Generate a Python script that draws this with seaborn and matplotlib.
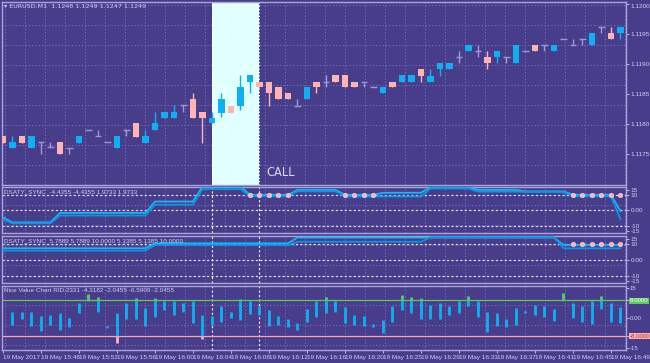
import numpy as np
import pandas as pd
import matplotlib
matplotlib.use('Agg')
import matplotlib.pyplot as plt
import seaborn as sns

sns.set_theme(style='dark')
plt.rcParams['font.family'] = ['Liberation Sans Narrow', 'Liberation Sans', 'DejaVu Sans']

BG = '#483D8B'
GRID = '#7a71c2'
FG = '#d2cef0'
EDGE = '#a9a4da'
BULL = '#0db0f2'
BEAR = '#ffb4b4'
DOJI = '#9a98d6'
LINE_A = '#1cb4f4'
LINE_B = '#0a96e0'
DOT = '#ffb0b8'
GREEN = '#5fcb5f'
PINK = '#f2a8b6'

# EURUSD M1 candles
opens = [1.11780, 1.11760, 1.11780, 1.11760, 1.11770, 1.11762, 1.11770, 1.11760, 1.11768, 1.11790,
         1.11780, 1.11770, 1.11760, 1.11790, 1.11802, 1.11768, 1.11790, 1.11810, 1.11810, 1.11832,
         1.11842, 1.11820, 1.11802, 1.11818, 1.11830, 1.11830, 1.11870, 1.11870, 1.11870, 1.11862,
         1.11852, 1.11830, 1.11842, 1.11870, 1.11870, 1.11882, 1.11882, 1.11870, 1.11870, 1.11862,
         1.11852, 1.11870, 1.11870, 1.11870, 1.11892, 1.11870, 1.11892, 1.11892, 1.11912, 1.11922,
         1.11922, 1.11912, 1.11912, 1.11912, 1.11902, 1.11922, 1.11932, 1.11932, 1.11922, 1.11942,
         1.11932, 1.11942, 1.11932, 1.11962, 1.11952, 1.11952]
highs = [1.11780, 1.11780, 1.11780, 1.11780, 1.11770, 1.11770, 1.11770, 1.11760, 1.11780, 1.11790,
         1.11790, 1.11770, 1.11780, 1.11790, 1.11802, 1.11790, 1.11820, 1.11820, 1.11832, 1.11832,
         1.11852, 1.11820, 1.11820, 1.11852, 1.11830, 1.11882, 1.11882, 1.11870, 1.11870, 1.11862,
         1.11852, 1.11842, 1.11862, 1.11870, 1.11882, 1.11882, 1.11882, 1.11870, 1.11870, 1.11862,
         1.11862, 1.11870, 1.11882, 1.11882, 1.11892, 1.11892, 1.11902, 1.11902, 1.11922, 1.11932,
         1.11932, 1.11922, 1.11922, 1.11912, 1.11932, 1.11922, 1.11932, 1.11932, 1.11932, 1.11942,
         1.11942, 1.11942, 1.11952, 1.11962, 1.11962, 1.11962]
lows = [1.11768, 1.11760, 1.11768, 1.11760, 1.11750, 1.11762, 1.11750, 1.11750, 1.11768, 1.11790,
        1.11780, 1.11770, 1.11760, 1.11780, 1.11778, 1.11768, 1.11790, 1.11810, 1.11810, 1.11820,
        1.11810, 1.11768, 1.11802, 1.11812, 1.11818, 1.11823, 1.11852, 1.11862, 1.11830, 1.11842,
        1.11842, 1.11830, 1.11842, 1.11852, 1.11862, 1.11870, 1.11862, 1.11862, 1.11862, 1.11862,
        1.11852, 1.11862, 1.11870, 1.11870, 1.11870, 1.11870, 1.11880, 1.11892, 1.11902, 1.11922,
        1.11912, 1.11892, 1.11902, 1.11902, 1.11902, 1.11922, 1.11922, 1.11922, 1.11922, 1.11942,
        1.11932, 1.11932, 1.11932, 1.11952, 1.11942, 1.11942]
closes = [1.11768, 1.11770, 1.11768, 1.11780, 1.11770, 1.11762, 1.11750, 1.11760, 1.11780, 1.11790,
          1.11780, 1.11770, 1.11780, 1.11790, 1.11778, 1.11780, 1.11802, 1.11820, 1.11820, 1.11832,
          1.11810, 1.11810, 1.11810, 1.11842, 1.11818, 1.11862, 1.11882, 1.11862, 1.11852, 1.11842,
          1.11842, 1.11830, 1.11862, 1.11862, 1.11870, 1.11870, 1.11862, 1.11862, 1.11870, 1.11862,
          1.11862, 1.11862, 1.11882, 1.11882, 1.11880, 1.11880, 1.11902, 1.11902, 1.11912, 1.11932,
          1.11922, 1.11902, 1.11922, 1.11912, 1.11932, 1.11922, 1.11922, 1.11932, 1.11932, 1.11942,
          1.11932, 1.11942, 1.11952, 1.11962, 1.11942, 1.11962]

price_ticks = [1.1200, 1.1195, 1.1190, 1.1185, 1.1180, 1.1175]
time_labels = ['19 May 2017', '19 May 15:48', '19 May 15:52', '19 May 15:56', '19 May 16:00',
               '19 May 16:04', '19 May 16:08', '19 May 16:12', '19 May 16:16', '19 May 16:20',
               '19 May 16:25', '19 May 16:29', '19 May 16:33', '19 May 16:37', '19 May 16:41',
               '19 May 16:45', '19 May 16:49']

# DSATY_SYNC (first window)
sync1_a = [-4.5, -7.7, -7.7, -7.7, -7.7, -7.7, -1.6, -1.6, -1.6, -1.6,
           -1.6, -1.6, -1.6, -1.6, -1.6, -1.6, 5.7, 5.7, 5.7, 5.7,
           5.7, 15.2, 15.2, 15.2, 15.2, 15.2, 10.0, 10.0, 10.0, 10.0,
           10.0, 13.1, 13.1, 13.1, 13.1, 13.1, 10.0, 10.0, 10.0, 10.0,
           11.3, 11.3, 11.3, 11.3, 11.3, 14.9, 14.9, 14.9, 14.9, 14.9,
           13.1, 13.1, 13.1, 13.1, 13.1, 12.2, 12.2, 12.2, 12.2, 12.2,
           10.0, 10.0, 10.0, 10.0, 10.0, -0.6]
sync1_b = [-5.8, -8.3, -8.3, -8.3, -8.3, -8.3, -3.3, -3.3, -3.3, -3.3,
           -3.3, -3.3, -3.3, -3.3, -3.3, -3.3, 3.7, 3.7, 3.7, 3.7,
           3.7, 13.6, 13.6, 13.6, 13.6, 13.6, 9.0, 9.0, 9.0, 9.0,
           9.0, 12.2, 12.2, 12.2, 12.2, 12.2, 8.9, 8.9, 8.9, 8.9,
           8.9, 8.9, 8.9, 8.9, 8.9, 14.0, 14.0, 14.0, 14.0, 14.0,
           12.0, 12.0, 12.0, 12.0, 12.0, 11.8, 11.8, 11.8, 11.8, 11.6,
           9.0, 9.0, 9.0, 9.0, 9.0, -5.8]
sync1_dots = [26, 27, 28, 29, 30, 36, 37, 38, 39, 60, 61, 62, 63, 64, 65]

# DSATY_SYNC (second window)
sync2_a = [7.3] * 16 + [10.4] * 15 + [14.0] * 28 + [9.4] * 7
sync2_b = [5.8] * 16 + [9.3] * 15 + [11.4] * 14 + [14.2] * 14 + [7.3] * 7
sync2_dots = [60, 61, 62, 63, 64, 65]
dot_level = 10.0

# Nice Value Chart, bar range per candle
vc_hi = [np.nan, 2.9, 2.9, 2.9, 1.0, 1.4, 2.2, -0.1, 7.0, 11.0, 9.3, -3.6, 2.2, 6.7, 9.0, 4.5,
         9.0, 7.5, 7.5, 6.7, 7.5, 1.4, 1.1, 5.5, 2.5, 8.5, 7.5, 5.5, 3.4, 1.0, -0.5, -2.1, 4.0,
         7.5, 9.3, 7.5, 4.9, 1.4, 1.0, -2.7, -0.9, 5.5, 10.5, 9.5, 9.0, 6.0, 6.7, 5.5, 7.9, 10.0,
         7.5, 2.9, 2.2, -0.5, 4.5, 3.2, 6.0, 5.5, 4.0, 11.3, 6.7, 5.5, 7.9, 10.0, 6.7, 4.9]
vc_lo = [np.nan, -3.1, -0.5, -3.6, -5.9, -3.1, -5.4, -3.9, 2.2, 7.5, 2.9, -4.6, -11.5, -0.4, -0.4,
         -3.4, 0.6, 3.7, 1.4, 2.5, -2.4, -9.6, -3.1, -1.6, -0.1, -0.9, 1.9, 1.4, -3.6, -3.1, -3.9,
         -5.4, -1.6, 0.6, 2.4, 2.9, -2.1, -3.1, -3.6, -3.9, -6.9, -1.6, 3.4, 2.2, -0.5, -0.5, -0.5,
         1.4, 2.2, 5.5, 0.6, -6.2, -3.6, -3.9, -3.1, 2.2, 1.4, 0.6, -1.2, 7.5, -0.1, -1.6, -2.7,
         4.0, -1.6, -2.1]
vc_level = 8.0

call_start, call_end = 22, 27

# layout in pixels of the 650x363 screen
W_PX, H_PX = 650, 363
X_LEFT, X_RIGHT = 2, 626
CANDLE_PX, CANDLE0_PX = 9.5, 3
panels_px = [(2, 185), (187, 233), (236, 283), (286, 350)]
SMALL = 4.6

fig = plt.figure(figsize=(6.5, 3.63), dpi=100, facecolor=BG)
axes = []
for top, bot in panels_px:
    ax = fig.add_axes([X_LEFT / W_PX, 1 - bot / H_PX, (X_RIGHT - X_LEFT) / W_PX, (bot - top) / H_PX])
    ax.set_facecolor(BG)
    for s in ax.spines.values():
        s.set_color(EDGE)
        s.set_linewidth(1.0)
    ax.set_xlim((X_LEFT - CANDLE0_PX) / CANDLE_PX, (X_RIGHT - CANDLE0_PX) / CANDLE_PX)
    ax.grid(False)
    ax.yaxis.tick_right()
    ax.tick_params(axis='y', colors=FG, labelsize=SMALL, length=2, width=0.6, pad=1.5)
    ax.tick_params(axis='x', bottom=False, labelbottom=False)
    axes.append(ax)
ax_main, ax_s1, ax_s2, ax_vc = axes

ax_main.set_ylim(1.11698, 1.12003)
ax_s1.set_ylim(-14.5, 15)
ax_s2.set_ylim(-14.5, 15)
ax_vc.set_ylim(-14.5, 14.5)

dots = (0, (1.2, 2.2))
vgrid = (np.arange(5, X_RIGHT, 20) - CANDLE0_PX) / CANDLE_PX


def hgrid_values(ax, top, bot):
    y0, y1 = ax.get_ylim()
    ys = np.arange(5, bot, 20)
    ys = ys[ys > top + 2]
    return y0 + (bot - ys) / (bot - top) * (y1 - y0)


for ax, (top, bot) in zip(axes, panels_px):
    for x in vgrid:
        ax.axvline(x, color=GRID, lw=0.7, ls=dots, zorder=0.5)
    for y in hgrid_values(ax, top, bot):
        ax.axhline(y, color=GRID, lw=0.7, ls=dots, zorder=0.5)

# ---- main price window ----
idx = np.arange(len(opens))
o, h, l, c = (np.array(v) for v in (opens, highs, lows, closes))
bull = c > o + 1e-9
bear = c < o - 1e-9
doji = ~(bull | bear)
colors = np.where(bull, BULL, np.where(bear, BEAR, DOJI))

ax_main.axvspan(call_start, call_end, color='#e0ffff', lw=0, zorder=0.8)
box_grid = vgrid[(vgrid > call_start) & (vgrid < call_end)]
ax_main.vlines(box_grid, 1.11698, 1.12003, color='white', lw=0.7, ls=dots, zorder=0.9)
ax_main.hlines(hgrid_values(ax_main, *panels_px[0]), call_start, call_end, color='white', lw=0.7, ls=dots, zorder=0.9)
for x in (call_start, call_end):
    ax_main.axvline(x, color='white', lw=0.7, ls=dots, zorder=0.9)

ax_main.vlines(idx, l, h, colors=colors, lw=1.0, zorder=2)
for m, col in ((bull, BULL), (bear, BEAR)):
    ax_main.bar(idx[m], np.abs(c - o)[m], bottom=np.minimum(o, c)[m], width=0.68, color=col, lw=0, zorder=3)
ax_main.hlines(o[doji], idx[doji] - 0.34, idx[doji] + 0.34, colors=DOJI, lw=1.0, zorder=3)

ax_main.set_yticks(price_ticks)
ax_main.set_yticklabels(['%.4f' % p for p in price_ticks])
ax_main.get_yticklabels()[0].set_va('top')
ax_main.text(call_end + 0.75, 1.11718, 'CALL', color='#dcdaf6', fontsize=8.3, va='center', ha='left',
             family=['DejaVu Sans'])
ax_main.text(0.004, 0.992, '\u25be EURUSD,M1  1.1248 1.1249 1.1247 1.1249', transform=ax_main.transAxes,
             color=FG, fontsize=SMALL, va='top', ha='left', family=['Liberation Sans Narrow', 'DejaVu Sans'])

# ---- DSATY windows ----
for ax, a, b, dots_idx, title in (
        (ax_s1, sync1_a, sync1_b, sync1_dots, 'DSATY_SYNC  -4.4355 -4.4355 1.9733 1.9733'),
        (ax_s2, sync2_a, sync2_b, sync2_dots, 'DSATY_SYNC  5.7889 5.7889 10.0000 5.1385 5.1385 10.0000')):
    for lev in (10, 0, -10):
        ax.axhline(lev, color='#e8e6ff', lw=0.8, ls=(0, (2, 2)), zorder=0.7)
    df = pd.DataFrame({'bar': np.r_[idx, idx], 'value': np.r_[a, b],
                       'line': ['a'] * len(idx) + ['b'] * len(idx)})
    sns.lineplot(data=df, x='bar', y='value', hue='line', palette={'a': LINE_A, 'b': LINE_B},
                 lw=1.3, legend=False, ax=ax, zorder=3)
    sns.scatterplot(x=dots_idx, y=[dot_level] * len(dots_idx), color=DOT, s=11, edgecolor='#fff0f0',
                    linewidth=0.3, ax=ax, zorder=4)
    ax.set_yticks([13, 10, 0, -10, -13])
    ax.set_yticklabels(['15', '10', '0.00', '-10', '-15'])
    ax.text(0.004, 0.96, title, transform=ax.transAxes, color=FG, fontsize=SMALL, va='top', ha='left')

# ---- Nice Value Chart ----
hi = np.array(vc_hi)
lo = np.array(vc_lo)
mid_lo = np.clip(lo, -vc_level, vc_level)
mid_hi = np.clip(hi, -vc_level, vc_level)
ax_vc.vlines(idx, mid_lo, mid_hi, color=BULL, lw=2.0, zorder=3)
up = hi > vc_level
ax_vc.vlines(idx[up], np.maximum(lo[up], vc_level), hi[up], color=GREEN, lw=2.0, zorder=3)
dn = lo < -vc_level
ax_vc.vlines(idx[dn], lo[dn], np.minimum(hi[dn], -vc_level), color=DOT, lw=2.0, zorder=3)
ax_vc.axhline(vc_level, color=GREEN, lw=0.9, zorder=2)
ax_vc.axhline(-vc_level, color=PINK, lw=0.9, zorder=2)
ax_vc.set_yticks([13.5, vc_level, 0, -vc_level, -13.5])
ax_vc.set_yticklabels(['15', '8.0000', '0.00', '-8.0000', '-15'])
ax_vc.tick_params(axis='y', pad=0.8, labelsize=4.4)
tl = ax_vc.get_yticklabels()
tl[1].set_bbox(dict(facecolor=GREEN, edgecolor='none', pad=0.4))
tl[1].set_color('white')
tl[3].set_bbox(dict(facecolor=BEAR, edgecolor='none', pad=0.4))
tl[3].set_color('#b03040')
ax_vc.text(0.004, 0.975, 'Nice Value Chart RID:2331 -4.3182 -2.0455 -6.5909 -2.0455', transform=ax_vc.transAxes,
           color=FG, fontsize=SMALL, va='top', ha='left')

for ax in (ax_s1, ax_s2, ax_vc):
    for x in (call_start, call_end):
        ax.axvline(x, color='#f0f0ff', lw=0.8, ls=(0, (2, 2)), zorder=1)

ax_vc.set_xticks(np.arange(0, len(idx), 4))
ax_vc.set_xticklabels(time_labels, ha='left')
ax_vc.tick_params(axis='x', bottom=True, labelbottom=True, colors=FG, labelsize=SMALL, length=2, width=0.6, pad=1.5)
for ax in axes:
    ax.set_xlabel('')
    ax.set_ylabel('')

fig.savefig('out.png', dpi=100, facecolor=BG)
